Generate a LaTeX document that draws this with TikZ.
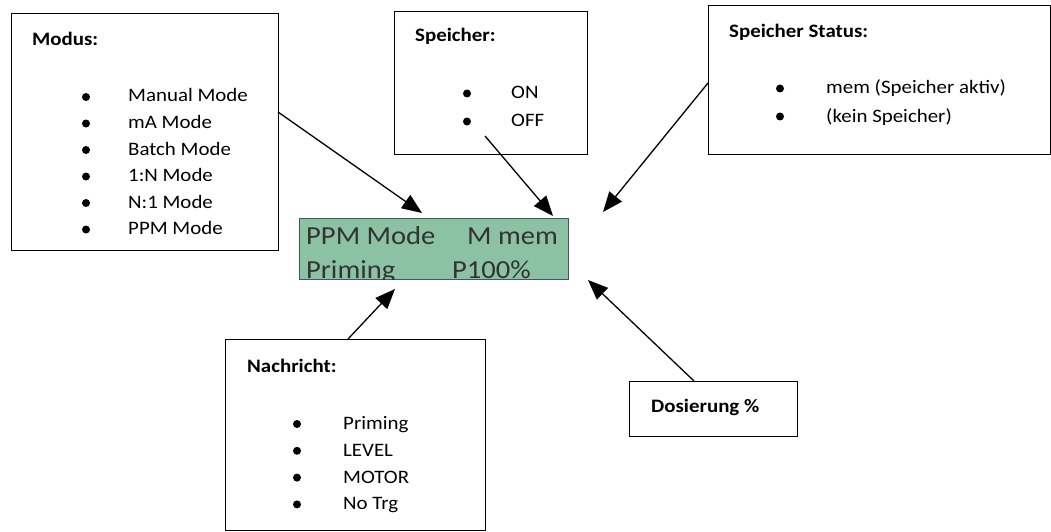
\documentclass[tikz,border=0pt]{standalone}
\usepackage{fontspec}
\setmainfont{Carlito}[FakeStretch=1.1]
\usepackage{tikz}
\usetikzlibrary{arrows.meta, calc, positioning}
\definecolor{lcdgreen}{HTML}{8CC2A4}
\definecolor{lcdrand}{HTML}{44546A}
\tikzset{
  infobox/.style = {draw, line width=1.4pt, minimum width=#1, inner sep=0pt, anchor=north west},
  head/.style    = {font=\fontsize{19}{23}\selectfont\bfseries, anchor=base west, inner sep=0pt},
  item/.style    = {font=\fontsize{19}{23}\selectfont, anchor=base west, inner sep=0pt},
  dot/.style     = {circle, fill=black, minimum size=8pt, inner sep=0pt},
  lcdtext/.style = {font=\fontsize{26}{30}\selectfont, text=black!80, anchor=base west, inner sep=0pt},
  pfeil/.style   = {-{Triangle[length=20pt, width=16pt]}, line width=1.3pt},
}
\begin{document}
\begin{tikzpicture}[x=1pt, y=-1pt]
  \useasboundingbox (0,0) rectangle (1051,532);

  % Anzeige
  \node[draw=lcdrand, fill=lcdgreen, line width=0.8pt, minimum width=269pt, minimum height=61pt,
        inner sep=0pt, anchor=north west] (lcd) at (299,218) {};
  \begin{scope}
    \clip (lcd.north west) rectangle (lcd.south east);
    \node[lcdtext] (lcd-a) at (306,244) {PPM Mode};
    \node[lcdtext] (lcd-b) at (467,244) {M mem};
    \node[lcdtext] (lcd-c) at (306,278) {Priming};
    \node[lcdtext] (lcd-d) at (452,278) {P100\%};
  \end{scope}

  % Modus
  \node[infobox=267pt, minimum height=237pt] (modus) at (11,13) {};
  \node[head] (modus-t) at (32,46) {Modus:};
  \foreach \txt [count=\i] in {Manual Mode, mA Mode, Batch Mode, 1:N Mode, N:1 Mode, PPM Mode} {
    \node[dot] (modus-b\i) at (86, {97+26.5*(\i-1)}) {};
    \node[item] (modus-\i) at (128, {102+26.5*(\i-1)}) {\txt};
  }

  % Speicher
  \node[infobox=193pt, minimum height=143pt] (speicher) at (394,11) {};
  \node[head] (speicher-t) at (415,42) {Speicher:};
  \foreach \txt [count=\i] in {ON, OFF} {
    \node[dot] (speicher-b\i) at (467, {93.5+28*(\i-1)}) {};
    \node[item] (speicher-\i) at (511, {99+28*(\i-1)}) {\txt};
  }

  % Speicher Status
  \node[infobox=342pt, minimum height=149pt] (status) at (708,5) {};
  \node[head] (status-t) at (729,38) {Speicher Status:};
  \foreach \txt [count=\i] in {mem (Speicher aktiv), (kein Speicher)} {
    \node[dot] (status-b\i) at (780, {88.5+28*(\i-1)}) {};
    \node[item] (status-\i) at (826, {94+28*(\i-1)}) {\txt};
  }

  % Nachricht
  \node[infobox=260pt, minimum height=191pt] (nachricht) at (225,339) {};
  \node[head] (nachricht-t) at (247,372) {Nachricht:};
  \foreach \txt [count=\i] in {Priming, LEVEL, MOTOR, No Trg} {
    \node[dot] (nachricht-b\i) at (297, {424+26.8*(\i-1)}) {};
    \node[item] (nachricht-\i) at (343, {429.5+26.8*(\i-1)}) {\txt};
  }

  % Dosierung
  \node[infobox=168pt, minimum height=55pt] (dosierung) at (629,381) {};
  \node[head] (dosierung-t) at (651,412) {Dosierung \%};

  % Pfeile
  \coordinate (modus-ab)  at (278,112);
  \coordinate (modus-an)  at (422,213);
  \coordinate (speich-ab) at (485,136);
  \coordinate (speich-an) at (553,216);
  \coordinate (status-ab) at (708,83);
  \coordinate (status-an) at (603,212);
  \coordinate (nachr-ab)  at (348,339);
  \coordinate (nachr-an)  at (395,289);
  \coordinate (dos-ab)    at (694,381);
  \coordinate (dos-an)    at (588,280);
  \draw[pfeil] (modus-ab) -- (modus-an);
  \draw[pfeil] (speich-ab) -- (speich-an);
  \draw[pfeil] (status-ab) -- (status-an);
  \draw[pfeil] (nachr-ab) -- (nachr-an);
  \draw[pfeil] (dos-ab) -- (dos-an);
\end{tikzpicture}
\end{document}
